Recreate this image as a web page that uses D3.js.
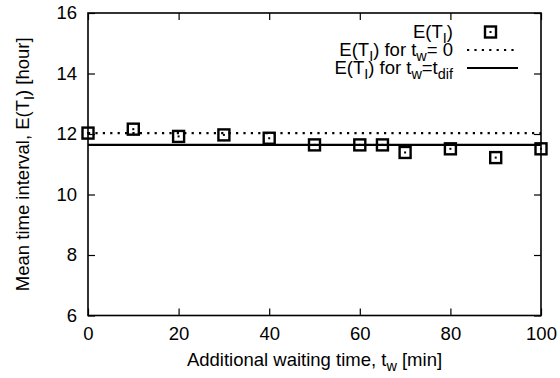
<!DOCTYPE html>
<html>
<head>
<meta charset="utf-8">
<script src="https://cdn.jsdelivr.net/npm/d3@7"></script>
<style>
  html, body { margin: 0; padding: 0; background: #fff; }
  text { font-family: "Liberation Sans", Arial, Helvetica, sans-serif; fill: #000; }
</style>
</head>
<body>
<svg id="chart" width="560" height="378"></svg>
<script>
// ---- data ----
const waitTimes = [0, 10, 20, 30, 40, 50, 60, 65, 70, 80, 90, 100];
const meanIntervals = [12.03, 12.16, 11.92, 11.97, 11.86, 11.64, 11.64, 11.64, 11.39, 11.51, 11.22, 11.51];
const lineNoWait = 12.03;   // E(T_I) for t_w = 0
const lineDif = 11.64;      // E(T_I) for t_w = t_dif
const xTicks = [0, 20, 40, 60, 80, 100];
const yTicks = [6, 8, 10, 12, 14, 16];

// ---- layout ----
const L = 88, R = 541, T = 13, B = 315.5;
const FS = 18.5;
const svg = d3.select("#chart");

const x = d3.scaleLinear().domain([0, 100]).range([L, R]);
const y = d3.scaleLinear().domain([6, 16]).range([B, T]);

// axes (ticks pointing inward)
const gx = svg.append("g").attr("transform", `translate(0,${B})`)
  .call(d3.axisBottom(x).tickValues(xTicks).tickSize(-7).tickPadding(11).tickFormat(d3.format("d")));
const gxTop = svg.append("g").attr("transform", `translate(0,${T})`)
  .call(d3.axisTop(x).tickValues(xTicks).tickSize(-7).tickFormat(""));
const gy = svg.append("g").attr("transform", `translate(${L},0)`)
  .call(d3.axisLeft(y).tickValues(yTicks).tickSize(-7).tickPadding(11).tickFormat(d3.format("d")));
const gyR = svg.append("g").attr("transform", `translate(${R},0)`)
  .call(d3.axisRight(y).tickValues(yTicks).tickSize(-7).tickFormat(""));

[gx, gxTop, gy, gyR].forEach(g => {
  g.select(".domain").remove();
  g.selectAll(".tick line").attr("stroke", "#000").attr("stroke-width", 1.2);
  g.selectAll(".tick text").style("font-size", FS + "px").attr("fill", "#000")
    .style("font-family", '"Liberation Sans", Arial, sans-serif');
});

// frame
svg.append("rect").attr("x", L).attr("y", T).attr("width", R - L).attr("height", B - T)
  .attr("fill", "none").attr("stroke", "#000").attr("stroke-width", 1.6);

// reference lines
svg.append("line").attr("x1", x(0)).attr("x2", x(100))
  .attr("y1", y(lineNoWait)).attr("y2", y(lineNoWait))
  .attr("stroke", "#000").attr("stroke-width", 2.2).attr("stroke-dasharray", "2.2,5.2");
svg.append("line").attr("x1", x(0)).attr("x2", x(100))
  .attr("y1", y(lineDif)).attr("y2", y(lineDif))
  .attr("stroke", "#000").attr("stroke-width", 2.2);

// markers
function marker(g, cx, cy) {
  g.append("rect").attr("x", cx - 5.5).attr("y", cy - 5.5).attr("width", 11).attr("height", 11)
    .attr("fill", "none").attr("stroke", "#000").attr("stroke-width", 2.4);
  g.append("rect").attr("x", cx - 1).attr("y", cy - 1).attr("width", 2).attr("height", 2).attr("fill", "#000");
}
const pts = svg.append("g");
waitTimes.forEach((t, i) => marker(pts, x(t), y(meanIntervals[i])));

// text with subscripts; anchor: "start" | "middle" | "end" (done by measuring)
function richText(parent, px, py, parts, anchor, transform) {
  const g = parent.append("g");
  if (transform) g.attr("transform", transform);
  const t = g.append("text").attr("x", 0).attr("y", 0).style("font-size", FS + "px");
  parts.forEach(p => {
    const s = t.append("tspan").text(p.t);
    if (p.sub) s.attr("baseline-shift", "-5px").style("font-size", (FS * 0.78) + "px");
  });
  const w = t.node().getComputedTextLength();
  const off = anchor === "end" ? -w : anchor === "middle" ? -w / 2 : 0;
  t.attr("x", px + off).attr("y", py);
  return t;
}

// legend
const legX = 453, sampleX1 = 467, sampleX2 = 518;
const rows = [32, 50, 68];
const leg = svg.append("g");
richText(leg, legX, rows[0] + 6, [{t: "E(T"}, {t: "I", sub: true}, {t: ")"}], "end");
marker(leg, (sampleX1 + sampleX2) / 2 - 2, rows[0]);

richText(leg, legX, rows[1] + 6, [{t: "E(T"}, {t: "I", sub: true}, {t: ") for t"}, {t: "w", sub: true}, {t: "= 0"}], "end");
leg.append("line").attr("x1", sampleX1).attr("x2", sampleX2).attr("y1", rows[1]).attr("y2", rows[1])
  .attr("stroke", "#000").attr("stroke-width", 2.2).attr("stroke-dasharray", "2.2,5.2");

richText(leg, legX, rows[2] + 6, [{t: "E(T"}, {t: "I", sub: true}, {t: ") for t"}, {t: "w", sub: true}, {t: "=t"}, {t: "dif", sub: true}], "end");
leg.append("line").attr("x1", sampleX1).attr("x2", sampleX2).attr("y1", rows[2]).attr("y2", rows[2])
  .attr("stroke", "#000").attr("stroke-width", 2.2);

// axis titles
richText(svg, (L + R) / 2, 366, [{t: "Additional waiting time, t"}, {t: "w", sub: true}, {t: " [min]"}], "middle");
richText(svg, 0, 0, [{t: "Mean time interval, E(T"}, {t: "I", sub: true}, {t: ") [hour]"}], "middle",
  `translate(29,${(T + B) / 2}) rotate(-90)`);
</script>
</body>
</html>
